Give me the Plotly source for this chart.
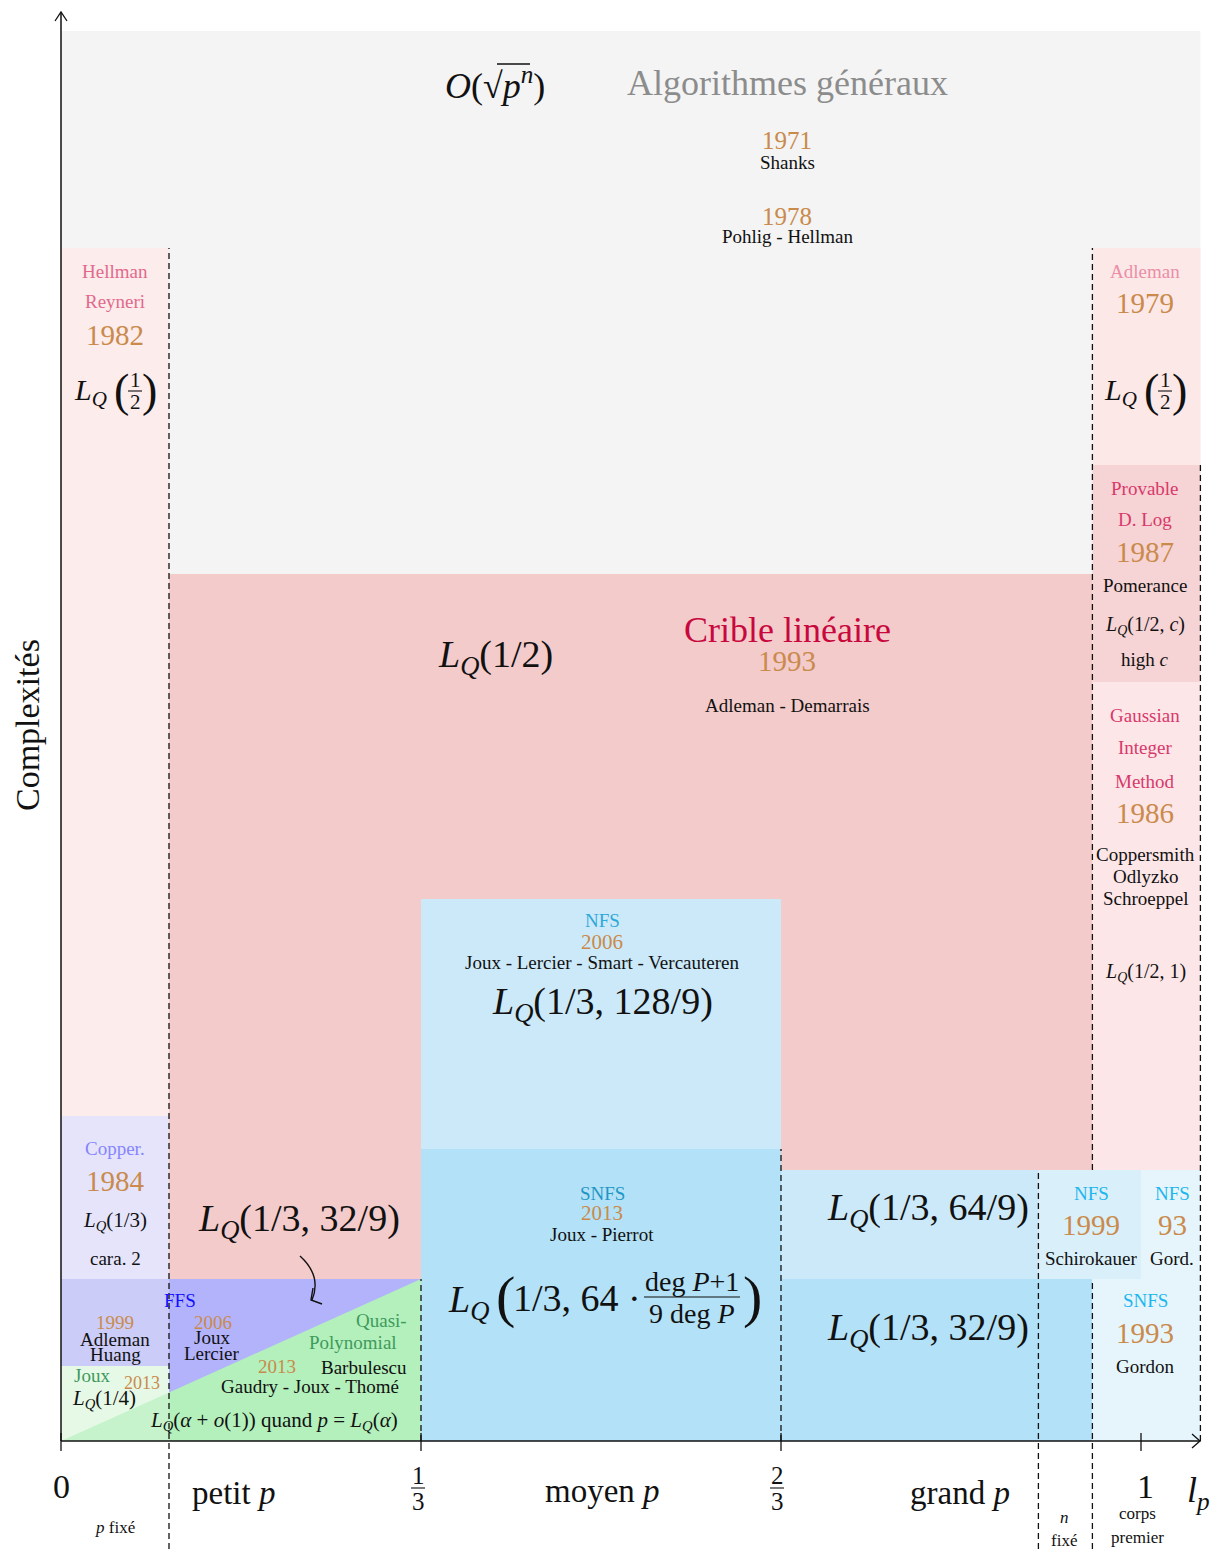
import plotly.graph_objects as go

FONT = "Liberation Serif"
# the page body has an 8px margin: the figure is made 8px smaller and shifted
OFF = 8
W, H = 1225 - OFF, 1549 - OFF

# ---- pixel <-> data helpers (x in l_p units, y in arbitrary complexity units)
X0PX, XSCALE = 61, 1080.0
Y0PX, YSCALE = 1441, 10.0
def X(px): return (px - X0PX) / XSCALE
def Y(py): return (Y0PX - py) / YSCALE

# ---- boundaries (l_p values and complexity levels)
XB_PFIX = 0.1
XB_THIRD = 1 / 3
XB_2THIRD = 2 / 3
XB_NFIX = 0.905
XB_PRIME = 0.955
XB_ONE = 1.0
XB_END = 1.055

Y_TOP = 141.0
Y_COLS = 119.3
Y_PROV_TOP = 97.6
Y_CRIBLE = 86.7
Y_PROV_BOT = 75.9
Y_NFS06 = 54.2
Y_COPPER = 32.5
Y_SNFS13 = 29.2
Y_NFS99 = 27.1
Y_LQ32 = 16.2
Y_AH = 7.5

# ---- regions
reg_names = ["general", "hellman", "adleman79", "provable", "gaussian", "crible",
             "copper", "adleman_huang", "joux13", "ffs", "nfs06", "snfs13",
             "nfs_grand", "snfs_grand", "gordon", "schirokauer"]
reg_x0 = [0, 0, XB_PRIME, XB_PRIME, XB_PRIME, XB_PFIX, 0, 0, 0, XB_PFIX, XB_THIRD, XB_THIRD,
          XB_2THIRD, XB_2THIRD, XB_PRIME, XB_NFIX]
reg_x1 = [XB_END, XB_PFIX, XB_END, XB_END, XB_END, XB_PRIME, XB_PFIX, XB_PFIX, XB_PFIX, XB_THIRD,
          XB_2THIRD, XB_2THIRD, XB_NFIX, XB_PRIME, XB_END, XB_ONE]
reg_y0 = [0, Y_COPPER, Y_PROV_TOP, Y_PROV_BOT, Y_NFS99, Y_LQ32, Y_LQ32, Y_AH, 0, 0, Y_SNFS13, 0,
          Y_LQ32, 0, 0, Y_LQ32]
reg_y1 = [Y_TOP, Y_COLS, Y_COLS, Y_PROV_TOP, Y_PROV_BOT, Y_CRIBLE, Y_COPPER, Y_LQ32, Y_AH, Y_LQ32,
          Y_NFS06, Y_SNFS13, Y_NFS99, Y_LQ32, Y_NFS99, Y_NFS99]
reg_colors = ["#f4f4f4", "#fcecec", "#fde8e8", "#f6d3d4", "#fde6e7", "#f3cbcb",
              "#e5e4fb", "#ccccf8", "#e6f9e6", "#b3b3fc", "#cce9f9", "#b3e1f7",
              "#cce9f9", "#b3e1f7", "#e6f5fc", "#d9eff9"]

# quasi-polynomial triangle (L_Q(alpha + o(1)))
tri_x = [0, XB_THIRD, XB_THIRD]
tri_y = [0, Y_LQ32, 0]

# dashed separators: x, y_from, y_to
dash_x = [XB_PFIX, XB_THIRD, XB_2THIRD, XB_NFIX, XB_PRIME, XB_PRIME, XB_END]
dash_y0 = [-10.8, 0, 0, -10.8, -10.8, Y_NFS99, 0]
dash_y1 = [Y_COLS, Y_LQ32, Y_SNFS13, Y_NFS99, Y_LQ32, Y_COLS, Y_PROV_TOP]

tick_vals = [0, 1 / 3, 2 / 3, 1]

YEAR = "#c98a4b"
PINK1 = "#e2698c"
PINK2 = "#ea8ea6"
PINK3 = "#d8396b"
CRIMSON = "#c8083d"
NFSC = "#2ea8d8"
SNFSC = "#1f97c5"
CYAN = "#1db6ee"
GREEN = "#3f9a5e"
INK = "#111111"

shapes = []
annotations = []

for x0, x1, y0, y1, c in zip(reg_x0, reg_x1, reg_y0, reg_y1, reg_colors):
    shapes.append(dict(type="rect", xref="x", yref="y", x0=x0, x1=x1, y0=y0, y1=y1,
                       fillcolor=c, line=dict(width=0), layer="below"))

def tri_path(xs, ys):
    return "M " + " L ".join(f"{a},{b}" for a, b in zip(xs, ys)) + " Z"

ylim = tri_y[1] * XB_PFIX / XB_THIRD
shapes.append(dict(type="path", xref="x", yref="y", layer="below",
                   path=tri_path([0, XB_PFIX, XB_PFIX], [0, ylim, 0]),
                   fillcolor="#c6f3cb", line=dict(width=0)))
shapes.append(dict(type="path", xref="x", yref="y", layer="below",
                   path=tri_path([XB_PFIX, tri_x[1], tri_x[2], XB_PFIX], [ylim, tri_y[1], tri_y[2], 0]),
                   fillcolor="#b3f0bb", line=dict(width=0)))

for x, y0, y1 in zip(dash_x, dash_y0, dash_y1):
    shapes.append(dict(type="line", xref="x", yref="y", x0=x, x1=x, y0=y0, y1=y1,
                       line=dict(color="#111", width=1.3, dash="6px,4px")))

# axes
shapes.append(dict(type="line", xref="x", yref="y", x0=0, x1=XB_END, y0=0, y1=0,
                   line=dict(color="#111", width=1.5)))
shapes.append(dict(type="line", xref="x", yref="y", x0=0, x1=0, y0=0, y1=Y(12),
                   line=dict(color="#111", width=1.5)))
for t in tick_vals:
    shapes.append(dict(type="line", xref="x", yref="y", x0=t, x1=t, y0=0.8, y1=-1.0,
                       line=dict(color="#111", width=1.3)))

def polyline(pts):
    return "M " + " L ".join(f"{X(a)},{Y(b)}" for a, b in pts)
shapes.append(dict(type="path", xref="x", yref="y", path=polyline([(55, 21), (61, 12), (67, 21)]),
                   line=dict(color="#111", width=1.3)))
shapes.append(dict(type="path", xref="x", yref="y", path=polyline([(1192, 1434), (1200, 1441), (1192, 1448)]),
                   line=dict(color="#111", width=1.3)))

# curved arrow (L_Q(1/3,32/9) -> FFS)
shapes.append(dict(type="path", xref="x", yref="y",
                   path=f"M {X(300)},{Y(1256)} Q {X(322)},{Y(1276)} {X(312)},{Y(1300)}",
                   line=dict(color="#111", width=1.4)))
shapes.append(dict(type="path", xref="x", yref="y", path=polyline([(313, 1288), (311, 1300), (322, 1304)]),
                   line=dict(color="#111", width=1.4)))


def txt(px, py, s, size, color=INK, **kw):
    annotations.append(dict(x=X(px), y=Y(py), xref="x", yref="y", text=s, showarrow=False,
                            xanchor=kw.pop("xanchor", "center"), yanchor="middle",
                            font=dict(family=FONT, size=size, color=color), **kw))

def hline(px0, px1, py, w=1.1):
    shapes.append(dict(type="line", xref="x", yref="y", x0=X(px0), x1=X(px1), y0=Y(py), y1=Y(py),
                       line=dict(color=INK, width=w)))

def frac(px, py, num, den, size, halfw, gap):
    txt(px, py - gap, num, size)
    txt(px, py + gap, den, size)
    hline(px - halfw, px + halfw, py)

LQ = "<i>L</i><sub><i>Q</i></sub>"

def lq_half(cx, cy):
    txt(cx - 25, cy + 2, LQ, 30)
    txt(cx + 6, cy, "(", 46)
    frac(cx + 20, cy + 1, "1", "2", 21, 7, 11)
    txt(cx + 34, cy, ")", 46)

# ---- top
txt(495, 83, "<i>O</i>(√<i>p</i><sup><i>n</i></sup>)", 36)
hline(497, 530, 64, 1.4)
txt(787, 83, "Algorithmes généraux", 36, "#8c8c8c")
txt(787, 140, "1971", 25, YEAR)
txt(787, 162, "Shanks", 19)
txt(787, 216, "1978", 25, YEAR)
txt(787, 236, "Pohlig - Hellman", 19)

# ---- left column
txt(115, 271, "Hellman", 19, PINK1)
txt(115, 301, "Reyneri", 19, PINK1)
txt(115, 335, "1982", 29, YEAR)
lq_half(115, 390)

# ---- right column
txt(1145, 271, "Adleman", 19, PINK2)
txt(1145, 303, "1979", 29, YEAR)
lq_half(1145, 390)
txt(1145, 488, "Provable", 19, PINK3)
txt(1145, 519, "D. Log", 19, PINK3)
txt(1145, 552, "1987", 29, YEAR)
txt(1145, 585, "Pomerance", 19)
txt(1145, 625, LQ + "(1/2, <i>c</i>)", 20)
txt(1145, 659, "high <i>c</i>", 19)
txt(1145, 715, "Gaussian", 19, PINK3)
txt(1145, 747, "Integer", 19, PINK3)
txt(1145, 781, "Method", 19, PINK3)
txt(1145, 813, "1986", 29, YEAR)
txt(1145, 854, "Coppersmith", 19)
txt(1145, 876, "Odlyzko", 19)
txt(1145, 898, "Schroeppel", 19)
txt(1145, 972, LQ + "(1/2, 1)", 20)

# ---- crible linéaire
txt(495, 657, LQ + "(1/2)", 38)
txt(787, 630, "Crible linéaire", 36, CRIMSON)
txt(787, 661, "1993", 29, YEAR)
txt(787, 705, "Adleman - Demarrais", 19)

# ---- NFS 2006
txt(602, 920, "NFS", 19, NFSC)
txt(602, 942, "2006", 21, YEAR)
txt(602, 962, "Joux - Lercier - Smart - Vercauteren", 19)
txt(602, 1004, LQ + "(1/3, 128/9)", 38)

# ---- SNFS 2013
txt(602, 1193, "SNFS", 19, SNFSC)
txt(602, 1213, "2013", 21, YEAR)
txt(602, 1234, "Joux - Pierrot", 19)
txt(468, 1302, LQ, 38)
txt(505, 1296, "(", 58)
txt(577, 1298, "1/3, 64 ·", 38)
frac(692, 1297, "deg <i>P</i>+1", "9 deg <i>P</i>", 28, 48, 16)
txt(752, 1296, ")", 58)

# ---- left bottom
txt(115, 1148, "Copper.", 19, "#8585ff")
txt(115, 1181, "1984", 29, YEAR)
txt(115, 1221, LQ + "(1/3)", 21)
txt(115, 1258, "cara. 2", 19)
txt(299, 1221, LQ + "(1/3, 32/9)", 38)
txt(180, 1300, "FFS", 19, "#1010ff")
txt(115, 1322, "1999", 19, YEAR)
txt(115, 1339, "Adleman", 19)
txt(115, 1354, "Huang", 19)
txt(213, 1322, "2006", 19, YEAR)
txt(212, 1337, "Joux", 19)
txt(212, 1353, "Lercier", 19)
txt(381, 1320, "Quasi-", 19, GREEN)
txt(353, 1342, "Polynomial", 19, GREEN)
txt(277, 1366, "2013", 19, YEAR)
txt(364, 1367, "Barbulescu", 19)
txt(310, 1386, "Gaudry - Joux - Thomé", 19)
txt(274, 1421, LQ + "(<i>α</i> + <i>o</i>(1)) quand <i>p</i> = " + LQ + "(<i>α</i>)", 21)
txt(92, 1375, "Joux", 19, GREEN)
txt(142, 1383, "2013", 18, YEAR)
txt(104, 1399, LQ + "(1/4)", 21)

# ---- grand p
txt(928, 1210, LQ + "(1/3, 64/9)", 38)
txt(1091, 1193, "NFS", 19, CYAN)
txt(1091, 1225, "1999", 29, YEAR)
txt(1091, 1258, "Schirokauer", 19)
txt(1172, 1193, "NFS", 19, CYAN)
txt(1172, 1225, "93", 29, YEAR)
txt(1172, 1258, "Gord.", 19)
txt(928, 1330, LQ + "(1/3, 32/9)", 38)
txt(1145, 1300, "SNFS", 19, CYAN)
txt(1145, 1333, "1993", 29, YEAR)
txt(1145, 1366, "Gordon", 19)

# ---- axis labels
txt(61, 1486, "0", 34)
txt(233, 1493, "petit <i>p</i>", 33)
frac(418, 1488, "1", "3", 25, 7, 13)
txt(602, 1491, "moyen <i>p</i>", 33)
frac(777, 1488, "2", "3", 25, 7, 13)
txt(960, 1493, "grand <i>p</i>", 33)
txt(1145, 1486, "1", 34)
txt(1198, 1492, "<i>l</i><sub><i>p</i></sub>", 36)
txt(115, 1527, "<i>p</i> fixé", 17)
txt(1064, 1517, "<i>n</i>", 17)
txt(1064, 1540, "fixé", 17)
txt(1137, 1513, "corps", 17)
txt(1137, 1537, "premier", 17)
txt(27, 725, "Complexités", 34, textangle=-90)

fig = go.Figure()
fig.add_trace(go.Scatter(x=[0], y=[0], mode="markers", marker=dict(opacity=0), hoverinfo="skip",
                         showlegend=False))
fig.update_layout(
    width=W, height=H, margin=dict(l=0, r=0, t=0, b=0),
    paper_bgcolor="white", plot_bgcolor="white",
    xaxis=dict(range=[X(OFF), X(OFF + W)], visible=False, fixedrange=True),
    yaxis=dict(range=[Y(OFF + H), Y(OFF)], visible=False, fixedrange=True),
    shapes=shapes, annotations=annotations, showlegend=False,
)
fig.write_html("out.html")
